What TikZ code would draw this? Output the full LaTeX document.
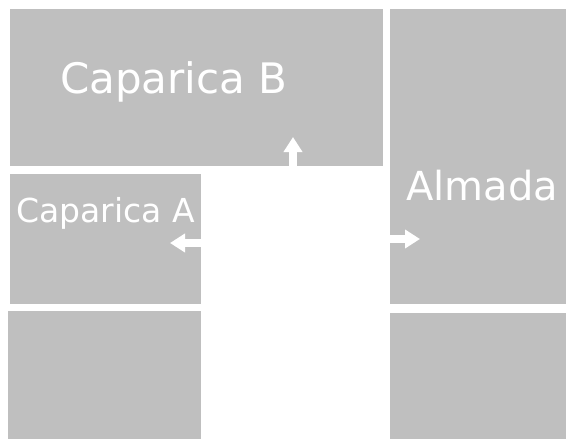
\documentclass[tikz,border=0pt]{standalone}
\usepackage{fontspec}
\setmainfont{DejaVu Sans}
\usetikzlibrary{arrows.meta}
\definecolor{blockgray}{HTML}{BFBFBF}
\tikzset{
  block/.style={fill=blockgray, draw=none, inner sep=0pt, outer sep=0pt, anchor=north west},
  lbl/.style={text=white, inner sep=0pt, anchor=base west},
  flow/.style={white, line width=8.5pt, -{Triangle[length=15pt,width=18pt]}}
}
\begin{document}
\begin{tikzpicture}[x=1pt,y=-1pt]
\useasboundingbox (0,0) rectangle (566,439);
\node[block, minimum width=373pt, minimum height=157pt] (capB) at (10,9) {};
\node[block, minimum width=176pt, minimum height=295pt] (almada) at (390,9) {};
\node[block, minimum width=191pt, minimum height=130pt] (capA) at (10,174) {};
\node[block, minimum width=193pt, minimum height=128pt] (bl) at (8,311) {};
\node[block, minimum width=176pt, minimum height=126pt] (br) at (390,313) {};
\node[lbl, font=\fontsize{42}{50}\selectfont] (tB) at (60,93) {Caparica B};
\node[lbl, font=\fontsize{33}{40}\selectfont] (tA) at (16,222) {Caparica A};
\node[lbl, font=\fontsize{40}{48}\selectfont] (tM) at (406,200) {Almada};
\coordinate (upS) at (293,168);
\coordinate (upE) at (293,137);
\coordinate (lS) at (202,243);
\coordinate (lE) at (170,243);
\coordinate (rS) at (389,239);
\coordinate (rE) at (420,239);
\draw[flow] (upS) -- (upE);
\draw[flow] (lS) -- (lE);
\draw[flow] (rS) -- (rE);
\end{tikzpicture}
\end{document}
